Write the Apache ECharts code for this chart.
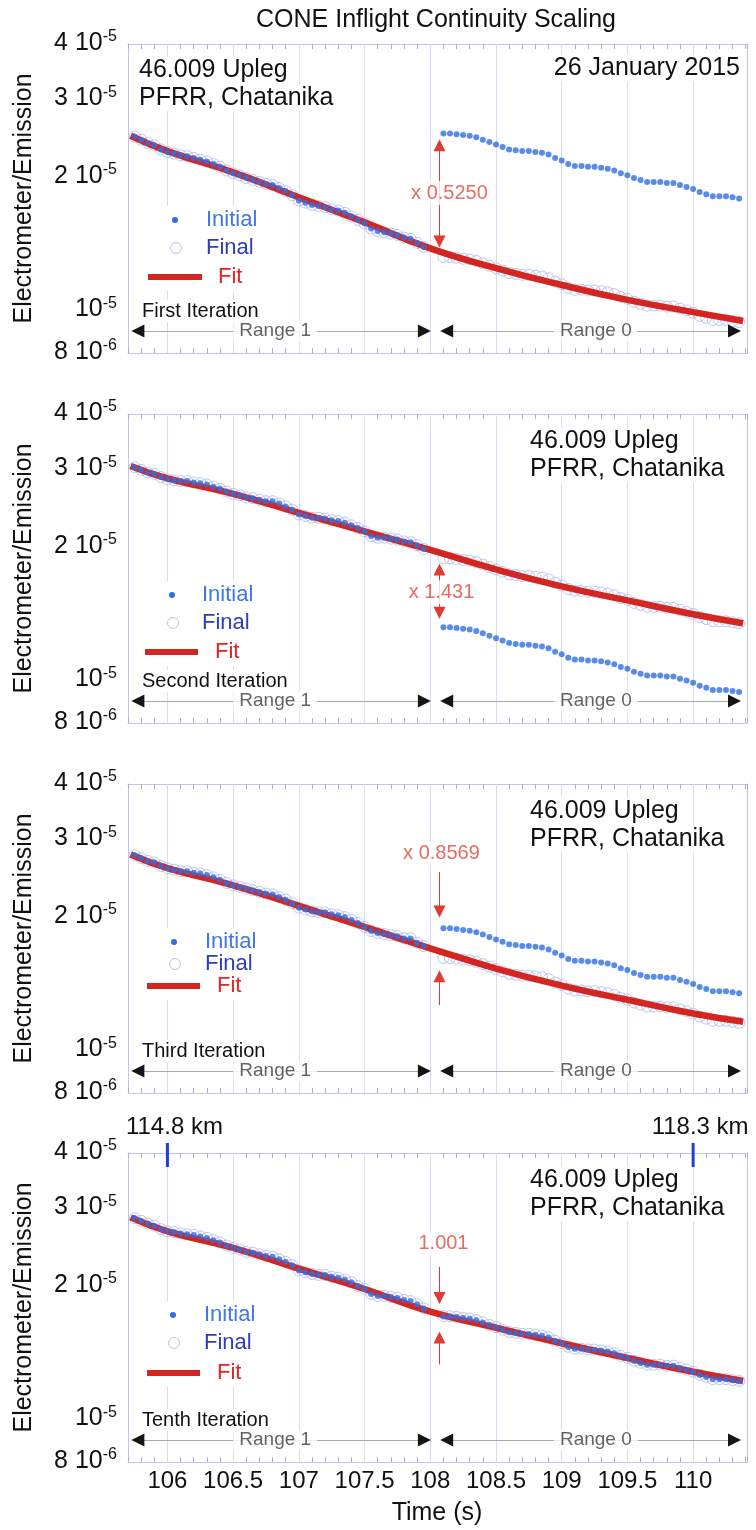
<!DOCTYPE html>
<html>
<head>
<meta charset="utf-8">
<title>CONE Inflight Continuity Scaling</title>
<script src="https://cdn.jsdelivr.net/npm/echarts@6.0.0/dist/echarts.min.js"></script>
<style>
  html, body { margin: 0; padding: 0; background: #fff; }
  #main { width: 756px; height: 1530px; }
</style>
</head>
<body>
<div id="main"></div>
<script>
// sample times (s)
const timeRange1 = [105.75, 105.8, 105.85, 105.9, 105.95, 106, 106.05, 106.1, 106.15, 106.2, 106.25, 106.3, 106.35, 106.4, 106.45,
  106.5, 106.55, 106.6, 106.65, 106.7, 106.75, 106.8, 106.85, 106.9, 106.95, 107, 107.05, 107.1, 107.15, 107.2,
  107.25, 107.3, 107.35, 107.4, 107.45, 107.5, 107.55, 107.6, 107.65, 107.7, 107.75, 107.8, 107.85, 107.9, 107.95];
const timeRange0 = [108.1, 108.15, 108.2, 108.25, 108.3, 108.35, 108.4, 108.45, 108.5, 108.55, 108.6, 108.65, 108.7, 108.75, 108.8,
  108.85, 108.9, 108.95, 109, 109.05, 109.1, 109.15, 109.2, 109.25, 109.3, 109.35, 109.4, 109.45, 109.5, 109.55,
  109.6, 109.65, 109.7, 109.75, 109.8, 109.85, 109.9, 109.95, 110, 110.05, 110.1, 110.15, 110.2, 110.25, 110.3, 110.35];
const timeFit = [105.72, 106, 106.5, 107, 107.5, 108, 108.5, 109, 109.5, 110, 110.38];

// values, units of 1e-6 (range 1: initial == final)
const firstRange1 = [24.7, 24.3, 23.9, 23.6, 23.1, 22.8, 22.6, 22.4, 22.3, 22.1, 21.9, 21.7, 21.4, 21.1, 20.7,
  20.4, 20.2, 19.9, 19.7, 19.5, 19.3, 19.2, 18.9, 18.6, 18.2, 17.7, 17.5, 17.3, 17.2, 17.1,
  16.9, 16.8, 16.6, 16.3, 16.0, 15.7, 15.3, 15.1, 15.0, 14.9, 14.8, 14.6, 14.5, 14.2, 13.9];
const firstRange0Initial = [25.1, 25.1, 25.0, 24.9, 24.8, 24.6, 24.3, 24.0, 23.7, 23.4, 23.1, 23.0, 22.9, 22.9, 22.8,
  22.7, 22.5, 22.1, 21.8, 21.4, 21.2, 21.2, 21.1, 21.1, 21.0, 20.9, 20.7, 20.4, 20.2, 19.9,
  19.7, 19.5, 19.5, 19.5, 19.4, 19.4, 19.2, 19.0, 18.8, 18.5, 18.3, 18.1, 18.1, 18.1, 18.0, 17.9];
const firstRange0Final = [13.18, 13.18, 13.13, 13.07, 13.02, 12.92, 12.76, 12.60, 12.44, 12.29, 12.13, 12.08, 12.02, 12.02, 11.97,
  11.92, 11.81, 11.60, 11.45, 11.24, 11.13, 11.13, 11.08, 11.08, 11.03, 10.97, 10.87, 10.71, 10.61, 10.45,
  10.34, 10.24, 10.24, 10.24, 10.19, 10.19, 10.08, 9.98, 9.87, 9.71, 9.61, 9.50, 9.50, 9.50, 9.45, 9.40];
const firstFit = [24.8, 22.9, 20.5, 18.0, 15.8, 13.8, 12.45, 11.4, 10.55, 9.9, 9.45];

const secondRange1 = [30.3, 29.9, 29.5, 29.3, 28.8, 28.5, 28.3, 28.2, 28.2, 28.0, 27.9, 27.7, 27.4, 27.1, 26.7,
  26.4, 26.2, 25.9, 25.8, 25.6, 25.4, 25.4, 25.1, 24.7, 24.3, 23.7, 23.5, 23.3, 23.3, 23.2,
  23.0, 22.9, 22.7, 22.4, 22.1, 21.7, 21.2, 21.0, 21.0, 20.9, 20.8, 20.6, 20.5, 20.2, 19.8];
const secondRange0Initial = [13.18, 13.18, 13.13, 13.07, 13.02, 12.92, 12.76, 12.60, 12.44, 12.29, 12.13, 12.08, 12.02, 12.02, 11.97,
  11.92, 11.81, 11.60, 11.45, 11.24, 11.13, 11.13, 11.08, 11.08, 11.03, 10.97, 10.87, 10.71, 10.61, 10.45,
  10.34, 10.24, 10.24, 10.24, 10.19, 10.19, 10.08, 9.98, 9.87, 9.71, 9.61, 9.50, 9.50, 9.50, 9.45, 9.40];
const secondRange0Final = [18.86, 18.86, 18.79, 18.70, 18.63, 18.49, 18.26, 18.03, 17.80, 17.59, 17.36, 17.29, 17.20, 17.20, 17.13,
  17.06, 16.90, 16.60, 16.38, 16.08, 15.93, 15.93, 15.86, 15.86, 15.78, 15.70, 15.56, 15.33, 15.18, 14.95,
  14.80, 14.65, 14.65, 14.65, 14.58, 14.58, 14.42, 14.28, 14.12, 13.90, 13.75, 13.59, 13.59, 13.59, 13.52, 13.45];
const secondFit = [30.5, 28.6, 26.4, 23.9, 21.7, 19.7, 17.8, 16.3, 15.15, 14.1, 13.45];

const thirdRange1 = [27.6, 27.2, 26.8, 26.6, 26.1, 25.8, 25.6, 25.4, 25.4, 25.2, 25.1, 24.9, 24.6, 24.3, 23.9,
  23.6, 23.4, 23.2, 23.0, 22.8, 22.6, 22.5, 22.2, 21.9, 21.5, 21.0, 20.8, 20.6, 20.5, 20.5,
  20.3, 20.2, 20.0, 19.7, 19.4, 19.0, 18.6, 18.4, 18.3, 18.2, 18.1, 17.9, 17.9, 17.5, 17.2];
const thirdRange0Initial = [18.86, 18.86, 18.79, 18.70, 18.63, 18.49, 18.26, 18.03, 17.80, 17.59, 17.36, 17.29, 17.20, 17.20, 17.13,
  17.06, 16.90, 16.60, 16.38, 16.08, 15.93, 15.93, 15.86, 15.86, 15.78, 15.70, 15.56, 15.33, 15.18, 14.95,
  14.80, 14.65, 14.65, 14.65, 14.58, 14.58, 14.42, 14.28, 14.12, 13.90, 13.75, 13.59, 13.59, 13.59, 13.52, 13.45];
const thirdRange0Final = [16.16, 16.16, 16.10, 16.02, 15.96, 15.84, 15.65, 15.45, 15.25, 15.07, 14.88, 14.82, 14.74, 14.74, 14.68,
  14.62, 14.48, 14.22, 14.04, 13.78, 13.65, 13.65, 13.59, 13.59, 13.52, 13.45, 13.33, 13.14, 13.01, 12.81,
  12.68, 12.55, 12.55, 12.55, 12.49, 12.49, 12.36, 12.24, 12.10, 11.91, 11.78, 11.65, 11.65, 11.65, 11.59, 11.53];
const thirdFit = [27.7, 25.8, 23.6, 21.2, 19.0, 17.0, 15.3, 14.0, 13.0, 12.1, 11.6];

const tenthRange1 = [28.5, 28.1, 27.7, 27.4, 26.9, 26.6, 26.5, 26.3, 26.2, 26.1, 25.9, 25.7, 25.4, 25.1, 24.7,
  24.4, 24.2, 23.9, 23.8, 23.6, 23.4, 23.3, 23.0, 22.7, 22.3, 21.7, 21.5, 21.3, 21.2, 21.2,
  21.0, 20.9, 20.7, 20.4, 20.0, 19.7, 19.2, 19.0, 19.0, 18.9, 18.8, 18.6, 18.5, 18.2, 17.8];
const tenthRange0Initial = [17.08, 17.08, 17.02, 16.93, 16.87, 16.74, 16.54, 16.33, 16.12, 15.93, 15.73, 15.66, 15.58, 15.58, 15.52,
  15.45, 15.31, 15.03, 14.84, 14.57, 14.43, 14.43, 14.36, 14.36, 14.29, 14.22, 14.09, 13.89, 13.75, 13.54,
  13.40, 13.27, 13.27, 13.27, 13.20, 13.20, 13.06, 12.94, 12.79, 12.59, 12.45, 12.31, 12.31, 12.31, 12.25, 12.19];
const tenthRange0Final = [17.10, 17.10, 17.04, 16.95, 16.89, 16.76, 16.56, 16.35, 16.14, 15.95, 15.75, 15.68, 15.60, 15.60, 15.54,
  15.47, 15.33, 15.05, 14.85, 14.58, 14.44, 14.44, 14.37, 14.37, 14.30, 14.23, 14.10, 13.90, 13.76, 13.55,
  13.41, 13.28, 13.28, 13.28, 13.21, 13.21, 13.07, 12.95, 12.80, 12.60, 12.46, 12.32, 12.32, 12.32, 12.26, 12.20];
const tenthFit = [28.6, 26.6, 24.4, 21.9, 19.7, 17.5, 16.1, 14.85, 13.75, 12.8, 12.2];

const iterationNames = ['First Iteration', 'Second Iteration', 'Third Iteration', 'Tenth Iteration'];
const factorText = ['x 0.5250', 'x 1.431', 'x 0.8569', '1.001'];
const factorTextY = [18.4, 15.8, 27.9, 25.0];
// [from, to, fromSymbol, toSymbol]
const factorArrows = [
  [[23.6, 14.3, 'triangle', 'triangle']],
  [[17.8, 14.2, 'triangle', 'triangle']],
  [[25.3, 20.6, 'none', 'triangle'], [12.65, 14.7, 'none', 'triangle']],
  [[22.1, 18.8, 'none', 'triangle'], [13.3, 15.3, 'none', 'triangle']]
];
const rangeNames = ['Range 1', 'Range 0'];
const rangeStart = [105.775, 108.125];
const rangeEnd = [107.955, 110.315];
const rangeLabelX = [106.82, 109.26];
const RANGE_Y = 8.97;

// axis ticks
const xGridValues = [106, 106.5, 107, 107.5, 108, 108.5, 109, 109.5, 110];
const yGridValues = [1e-5, 2e-5, 3e-5];
const yTickValues = [4e-5, 3e-5, 2e-5, 1e-5, 8e-6];
const yTickMantissa = ['4 10', '3 10', '2 10', '10', '8 10'];
const yTickExponent = ['-5', '-5', '-5', '-5', '-6'];
const kmLabels = ['114.8 km', '118.3 km'];
const kmTimes = [106.0, 110.0];

const UNIT = 1e-6;
const X_MIN = 105.7, X_MAX = 110.41;
const Y_MIN = 8e-6, Y_MAX = 4e-5;
const ARROW_X = 108.07;
const GRID_TOPS = [44, 414, 784, 1153];
const GRID_H = 309;
const FONT = '"Liberation Sans", Arial, Helvetica, sans-serif';
const FRAME = '#bfc6e8', TICK = '#a3ade0', GRIDC = '#d9ddf1';
const BLUE = '#2f6ee6', CIRCLE = '#a9b8ee', RED = '#d42621', ARROW_RED = '#e23a32';

const panels = [
  { range1: firstRange1, r0i: firstRange0Initial, r0f: firstRange0Final, fit: firstFit },
  { range1: secondRange1, r0i: secondRange0Initial, r0f: secondRange0Final, fit: secondFit },
  { range1: thirdRange1, r0i: thirdRange0Initial, r0f: thirdRange0Final, fit: thirdFit },
  { range1: tenthRange1, r0i: tenthRange0Initial, r0f: tenthRange0Final, fit: tenthFit }
];

function pairs(ts, vs) {
  return ts.map((t, i) => [t, vs[i] * UNIT]);
}

const grids = [], xAxes = [], yAxes = [], series = [];

panels.forEach((pd, p) => {
  grids.push({ left: 128, right: 9, top: GRID_TOPS[p], height: GRID_H, containLabel: false, outerBoundsMode: 'none' });
  const xBase = {
    type: 'value', gridIndex: p, min: X_MIN, max: X_MAX, interval: 0.1,
    splitLine: { show: false },
    axisLine: { show: true, onZero: false, lineStyle: { color: FRAME, width: 1 } },
    axisTick: { show: true, inside: true, length: 5, lineStyle: { color: TICK } },
    axisLabel: { show: false }
  };
  xAxes.push(Object.assign({}, xBase, {
    position: 'bottom',
    axisLabel: p === 3 ? {
      show: true, fontSize: 24, color: '#111', margin: 7, fontFamily: FONT,
      formatter: function (v) {
        const r = Math.round(v * 2) / 2;
        if (Math.abs(v - r) > 1e-6 || r < 106 || r > 110) return '';
        return String(r);
      }
    } : { show: false }
  }));
  xAxes.push(Object.assign({}, xBase, { position: 'top' }));
  const yBase = {
    type: 'log', logBase: 10, gridIndex: p, min: Y_MIN, max: Y_MAX,
    axisLine: { show: true, onZero: false, lineStyle: { color: FRAME, width: 1 } },
    axisTick: { show: false }, axisLabel: { show: false }, splitLine: { show: false }
  };
  yAxes.push(Object.assign({}, yBase, { position: 'left' }));
  yAxes.push(Object.assign({}, yBase, { position: 'right' }));

  const ax = { xAxisIndex: 2 * p, yAxisIndex: 2 * p };

  // grid lines
  series.push(Object.assign({
    type: 'line', name: 'grid' + p, data: [], silent: true,
    markLine: {
      silent: true, z: 1, symbol: 'none', animation: false,
      label: { show: false },
      lineStyle: { color: GRIDC, width: 1, type: 'solid' },
      data: xGridValues.map(v => ({ xAxis: v })).concat(yGridValues.map(v => ({ yAxis: v })))
    }
  }, ax));

  // Final (open circles)
  series.push(Object.assign({
    type: 'scatter', name: 'Final', silent: true, z: 2,
    data: pairs(timeRange1, pd.range1).concat(pairs(timeRange0, pd.r0f)),
    symbol: 'circle', symbolSize: 11,
    itemStyle: { color: 'rgba(255,255,255,0)', borderColor: CIRCLE, borderWidth: 1 }
  }, ax));

  // Fit
  series.push(Object.assign({
    type: 'line', name: 'Fit', silent: true, z: 3,
    data: pairs(timeFit, pd.fit), smooth: 0.5,
    showSymbol: false, symbol: 'none',
    lineStyle: { color: RED, width: 6.5 }
  }, ax));

  // Initial (dots)
  series.push(Object.assign({
    type: 'scatter', name: 'Initial', silent: true, z: 4,
    data: pairs(timeRange1, pd.range1).concat(pairs(timeRange0, pd.r0i)),
    symbol: 'circle', symbolSize: 6,
    itemStyle: { color: BLUE }
  }, ax));

  // annotations: scale arrows, range arrows and their texts
  const ml = [];
  factorArrows[p].forEach(a => {
    ml.push([
      { coord: [ARROW_X, a[0] * UNIT], symbol: a[2], symbolSize: 12, lineStyle: { color: ARROW_RED, width: 1, type: 'solid' } },
      { coord: [ARROW_X, a[1] * UNIT], symbol: a[3], symbolSize: 12 }
    ]);
  });
  rangeNames.forEach((n, r) => {
    ml.push([
      { coord: [rangeStart[r], RANGE_Y * UNIT], symbol: 'none', lineStyle: { color: '#a8a8a8', width: 1, type: 'solid' } },
      { coord: [rangeEnd[r], RANGE_Y * UNIT], symbol: 'none' }
    ]);
    ml.push([
      { coord: [rangeStart[r], RANGE_Y * UNIT], symbol: 'triangle', symbolSize: 13, lineStyle: { color: '#151515', width: 0, type: 'solid' } },
      { coord: [rangeEnd[r], RANGE_Y * UNIT], symbol: 'triangle', symbolSize: 13 }
    ]);
  });
  const labelOffsets = [10, 2, 2, 4];
  const labelData = [{
    value: [ARROW_X, factorTextY[p] * UNIT],
    label: {
      formatter: factorText[p], color: '#e0463c', fontSize: 20, fontFamily: FONT,
      backgroundColor: '#fff', padding: [2, 2], offset: [labelOffsets[p], 0]
    }
  }].concat(rangeNames.map((n, r) => ({
    value: [rangeLabelX[r], RANGE_Y * UNIT],
    label: {
      formatter: n, color: '#3c3c3c', fontSize: 19, fontFamily: FONT,
      backgroundColor: '#fff', padding: [1, 6]
    }
  })));
  series.push(Object.assign({
    type: 'scatter', name: 'notes' + p, silent: true, z: 8,
    symbolSize: 1, itemStyle: { color: 'rgba(0,0,0,0)' },
    label: { show: true, position: 'inside' },
    data: labelData,
    markLine: {
      silent: true, z: 6, animation: false, label: { show: false },
      lineStyle: { type: 'solid' },
      data: ml
    }
  }, ax));
});

const chart = echarts.init(document.getElementById('main'));
chart.setOption({
  animation: false,
  backgroundColor: '#fff',
  textStyle: { fontFamily: FONT },
  grid: grids,
  xAxis: xAxes,
  yAxis: yAxes,
  series: series
});

// text decorations
function text(x, y, str, size, color, align, vAlign, more) {
  return {
    type: 'text', x: x, y: y, z: 100, silent: true,
    style: Object.assign({
      text: str, fill: color, fontSize: size, fontFamily: FONT,
      align: align, verticalAlign: vAlign, textAlign: align, textVerticalAlign: vAlign
    }, more || {})
  };
}

const legendRows = [[176, 204, 233], [181, 209, 238], [158, 180, 202], [162, 190, 220]];
const legendX = [
  { dot: 175, text: 206, line0: 148, line1: 202, fit: 218 },
  { dot: 172, text: 202, line0: 145, line1: 198, fit: 215 },
  { dot: 174, text: 205, line0: 147, line1: 200, fit: 217 },
  { dot: 173, text: 204, line0: 147, line1: 200, fit: 217 }
];

const els = [];
els.push(text(436, 20, 'CONE Inflight Continuity Scaling', 25, '#111', 'center', 'middle'));
els.push(text(437, 1513, 'Time (s)', 25, '#111', 'center', 'middle'));

panels.forEach((pd, p) => {
  const T = GRID_TOPS[p];
  const yt = text(24, T + GRID_H / 2, 'Electrometer/Emission', 25, '#111', 'center', 'middle');
  yt.rotation = Math.PI / 2;
  els.push(yt);

  yTickValues.forEach((v, k) => {
    const py = chart.convertToPixel({ yAxisIndex: 2 * p }, v);
    els.push(text(117, py - 1, '{b|' + yTickMantissa[k] + '}{s|' + yTickExponent[k] + '}', 24, '#111', 'right', 'middle', {
      rich: {
        b: { fontSize: 25, lineHeight: 28, fontFamily: FONT, fill: '#111', color: '#111' },
        s: { fontSize: 16, lineHeight: 13, fontFamily: FONT, fill: '#111', color: '#111', verticalAlign: 'top' }
      }
    }));
  });

  const bg = { backgroundColor: '#fff', padding: [1, 3] };
  if (p === 0) {
    els.push(text(136, T + 26, '46.009 Upleg', 25, '#111', 'left', 'middle', bg));
    els.push(text(136, T + 54, 'PFRR, Chatanika', 25, '#111', 'left', 'middle', bg));
    els.push(text(743, T + 24, '26 January 2015', 25, '#111', 'right', 'middle', bg));
  } else {
    els.push(text(527, T + 27, '46.009 Upleg', 25, '#111', 'left', 'middle', bg));
    els.push(text(527, T + 55, 'PFRR, Chatanika', 25, '#111', 'left', 'middle', bg));
  }
  els.push(text(139, T + 267, iterationNames[p], 20, '#111', 'left', 'middle', bg));

  // legend
  const rows = legendRows[p], lx = legendX[p];
  els.push({ type: 'rect', z: 99, silent: true,
    shape: { x: lx.line0 - 6, y: T + rows[0] - 14, width: 125, height: rows[2] - rows[0] + 28 },
    style: { fill: '#fff' } });
  els.push({ type: 'circle', z: 100, silent: true, shape: { cx: lx.dot, cy: T + rows[0], r: 3 }, style: { fill: BLUE } });
  els.push({ type: 'circle', z: 100, silent: true, shape: { cx: lx.dot + 1, cy: T + rows[1], r: 5.5 }, style: { fill: 'none', stroke: '#bcc3e4', lineWidth: 1 } });
  els.push({ type: 'line', z: 100, silent: true, shape: { x1: lx.line0, y1: T + rows[2], x2: lx.line1, y2: T + rows[2] }, style: { stroke: RED, lineWidth: 6 } });
  els.push(text(lx.text, T + rows[0], 'Initial', 22, '#3f76e8', 'left', 'middle'));
  els.push(text(lx.text, T + rows[1], 'Final', 22, '#2b3cbf', 'left', 'middle'));
  els.push(text(lx.fit, T + rows[2], 'Fit', 22, '#e02525', 'left', 'middle'));
});

// altitude markers on the last panel
const T4 = GRID_TOPS[3];
kmTimes.forEach((t, k) => {
  const px = chart.convertToPixel({ xAxisIndex: 6 }, t);
  els.push({ type: 'line', z: 100, silent: true, shape: { x1: px, y1: T4 - 10, x2: px, y2: T4 + 14 }, style: { stroke: '#1d3fd3', lineWidth: 3 } });
  els.push(text(px + 7, T4 - 26, kmLabels[k], 24, '#111', 'center', 'middle'));
});

chart.setOption({ graphic: { elements: els } });
</script>
</body>
</html>
